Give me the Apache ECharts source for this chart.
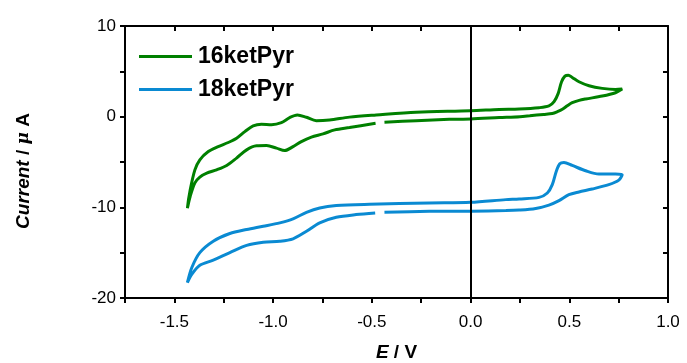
<!DOCTYPE html>
<html>
<head>
<meta charset="utf-8">
<script src="https://cdn.jsdelivr.net/npm/echarts@6/dist/echarts.min.js"></script>
<style>
html,body{margin:0;padding:0;background:#fff;}
#chart{width:687px;height:363px;}
</style>
</head>
<body>
<div id="chart"></div>
<script>
// Series names
const seriesNames = ['16ketPyr', '18ketPyr'];

// 16ketPyr: potential (V) and current (µA), traced as one loop
const greenE = [-0.436,-0.276,-0.108,0,0.145,0.25,0.3,0.37,0.414,0.44,0.465,0.49,0.515,0.55,0.583,0.667,0.734,0.768,
  0.734,0.667,0.6,0.549,0.515,0.495,0.478,0.461,0.444,0.423,0.397,0.347,0.246,0.145,0,-0.276,-0.478,-0.613,-0.714,-0.781,-0.831,-0.877,-0.916,-0.958,-1.008,-1.059,-1.101,-1.143,-1.185,-1.227,-1.278,-1.328,-1.371,-1.396,-1.42,-1.434,
  -1.42,-1.396,-1.371,-1.336,-1.286,-1.235,-1.185,-1.134,-1.084,-1.033,-0.983,-0.941,-0.899,-0.857,-0.806,-0.747,-0.688,-0.613,-0.481];
const greenI = [-0.62,-0.44,-0.29,-0.25,-0.1,0.0,0.1,0.25,0.35,0.55,0.81,1.2,1.54,1.8,1.95,2.27,2.64,3.04,
  3.0,3.12,3.41,3.85,4.33,4.58,4.47,3.85,2.57,1.65,1.18,0.99,0.85,0.8,0.65,0.5,0.19,-0.05,-0.36,-0.44,-0.07,0.19,-0.1,-0.66,-0.88,-0.84,-1.02,-1.65,-2.38,-2.85,-3.3,-3.85,-4.76,-5.87,-8.1,-10.1,
  -8.8,-7.3,-6.66,-6.22,-5.86,-5.38,-4.57,-3.66,-3.22,-3.19,-3.47,-3.74,-3.3,-2.75,-2.26,-1.9,-1.46,-1.2,-0.73];

// 18ketPyr: potential (V) and current (µA), traced as one loop
const blueE = [-0.436,-0.209,0,0.179,0.246,0.33,0.397,0.448,0.498,0.549,0.616,0.7,0.751,0.768,
  0.734,0.65,0.583,0.515,0.473,0.452,0.434,0.414,0.389,0.347,0.246,0.179,0,-0.209,-0.512,-0.68,-0.764,-0.831,-0.899,-0.966,-1.05,-1.134,-1.219,-1.303,-1.371,-1.412,-1.434,
  -1.412,-1.371,-1.303,-1.219,-1.134,-1.05,-0.966,-0.899,-0.831,-0.764,-0.68,-0.58,-0.483];
const blueI = [-10.55,-10.44,-10.42,-10.36,-10.3,-10.12,-9.75,-9.26,-8.6,-8.3,-7.98,-7.5,-7.0,-6.4,
  -6.33,-6.33,-5.97,-5.38,-5.05,-5.2,-6.04,-7.5,-8.42,-8.9,-9.08,-9.15,-9.45,-9.52,-9.67,-9.81,-10.07,-10.55,-11.27,-11.71,-12.09,-12.45,-12.89,-13.74,-15.0,-16.66,-18.3,
  -17.4,-16.4,-15.82,-15.0,-14.2,-13.85,-13.74,-13.47,-12.64,-11.71,-11.1,-10.8,-10.62];

const xTicks = {min: -1.75, max: 1.0, step: 0.25};
const yTicks = {min: -20, max: 10, step: 5};

function zip(a, b) { return a.map((v, i) => [v, b[i]]); }

const FONT = 'Liberation Sans, Arial, sans-serif';
const TXT = '#000';
const chart = echarts.init(document.getElementById('chart'), null, {renderer: 'canvas'});

const axisLineStyle = {show: true, onZero: false, lineStyle: {color: '#000', width: 2}};
const option = {
  animation: false,
  backgroundColor: '#fff',
  grid: {left: 125, right: 19, top: 26, bottom: 65, containLabel: false, outerBoundsMode: 'none'},
  legend: {
    orient: 'vertical', left: 139, top: 45, padding: 0, icon: 'rect',
    itemWidth: 53, itemHeight: 3, itemGap: 10,
    textStyle: {fontFamily: FONT, fontSize: 23, fontWeight: 'bold', color: TXT, padding: [0,0,0,1]},
    data: seriesNames
  },
  xAxis: [
    {type: 'value', min: xTicks.min, max: xTicks.max, interval: xTicks.step, position: 'bottom',
     axisLine: axisLineStyle, splitLine: {show: false},
     axisTick: {show: true, inside: false, length: 5, lineStyle: {color: '#000', width: 2}},
     axisLabel: {margin: 16, fontFamily: FONT, fontSize: 17, color: TXT,
       formatter: v => (Math.abs(v / 0.5 - Math.round(v / 0.5)) < 1e-6 ? v.toFixed(1) : '')},
     name: '{i|E} / V', nameLocation: 'middle', nameGap: 45,
     nameTextStyle: {fontFamily: FONT, fontSize: 19, fontWeight: 'bold', color: TXT,
       rich: {i: {fontFamily: FONT, fontSize: 19, fontWeight: 'bold', fontStyle: 'italic', color: TXT}}}
    },
    {type: 'value', min: xTicks.min, max: xTicks.max, interval: xTicks.step, position: 'top',
     axisLine: axisLineStyle, splitLine: {show: false},
     axisTick: {show: true, inside: true, length: 5, lineStyle: {color: '#000', width: 2}},
     axisLabel: {show: false}}
  ],
  yAxis: [
    {type: 'value', min: yTicks.min, max: yTicks.max, interval: yTicks.step, position: 'left',
     axisLine: axisLineStyle, splitLine: {show: false},
     axisTick: {show: true, inside: false, length: 5, lineStyle: {color: '#000', width: 2}},
     axisLabel: {margin: 9, fontFamily: FONT, fontSize: 17, color: TXT,
       formatter: v => (v % 10 === 0 ? String(v) : '')},
     name: '{i|Current} / {g|μ} A', nameLocation: 'middle', nameGap: 92, nameRotate: 90,
     nameTextStyle: {fontFamily: FONT, fontSize: 19, fontWeight: 'bold', color: TXT, padding: [0, 18, 0, 0],
       rich: {i: {fontFamily: FONT, fontSize: 19, fontWeight: 'bold', fontStyle: 'italic', color: TXT},
              g: {fontFamily: 'DejaVu Serif, serif', fontSize: 17, fontStyle: 'italic', color: TXT}}}
    },
    {type: 'value', min: yTicks.min, max: yTicks.max, interval: yTicks.step, position: 'right',
     axisLine: axisLineStyle, splitLine: {show: false},
     axisTick: {show: true, inside: true, length: 5, lineStyle: {color: '#000', width: 2}},
     axisLabel: {show: false}}
  ],
  series: [
    {name: seriesNames[0], type: 'line', xAxisIndex: 0, yAxisIndex: 0, data: zip(greenE, greenI),
     showSymbol: false, symbol: 'none', smooth: 0.3, color: '#008000',
     lineStyle: {width: 3, color: '#008000'},
     markLine: {silent: true, symbol: 'none', label: {show: false},
       lineStyle: {color: '#000', width: 2, type: 'solid'}, data: [{xAxis: 0}]}},
    {name: seriesNames[1], type: 'line', xAxisIndex: 0, yAxisIndex: 0, data: zip(blueE, blueI),
     showSymbol: false, symbol: 'none', smooth: 0.3, color: '#0a8ad2',
     lineStyle: {width: 3, color: '#0a8ad2'}}
  ]
};
chart.setOption(option);
</script>
</body>
</html>
